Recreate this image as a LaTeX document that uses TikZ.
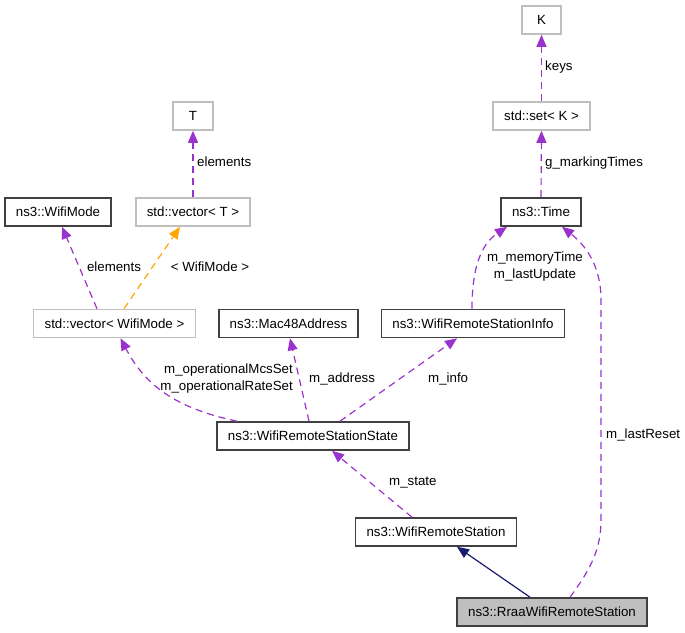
\documentclass[tikz,border=0pt]{standalone}
\usepackage{fontspec}
\setmainfont{Liberation Sans}
\usepackage{tikz}
\usetikzlibrary{arrows.meta}
\definecolor{dxpurple}{RGB}{154,50,205}
\definecolor{dxorange}{RGB}{255,165,0}
\definecolor{dxnavy}{RGB}{25,25,112}
\definecolor{dxgray}{RGB}{191,191,191}
\definecolor{dxedge}{RGB}{64,64,64}

\begin{document}
\begin{tikzpicture}[x=1pt,y=-1pt,
  font=\fontsize{13.3}{17}\selectfont,
  cls/.style={draw=dxedge,line width=1.6pt,fill=white,minimum height=28pt,inner xsep=11pt,inner ysep=0pt},
  tmpl/.style={cls,draw=dxgray},
  member/.style={dxpurple,line width=1.2pt,dash pattern=on 7pt off 5pt,-{Triangle[length=12pt,width=10pt]}},
  inst/.style={member,dxorange},
  inherit/.style={dxnavy,line width=1.2pt,-{Triangle[length=12pt,width=10pt]}},
  lbl/.style={inner sep=0pt}]
  \useasboundingbox (0,0) rectangle (685,632);
  % classes
  \node[tmpl,minimum width=39pt] (K) at (541.5,20) {K};
  \node[tmpl] (set) at (541.5,116) {std::set< K >};
  \node[cls] (time) at (541,212) {ns3::Time};
  \node[tmpl,minimum width=40pt] (T) at (193,116) {T};
  \node[cls] (mode) at (58,212) {ns3::WifiMode};
  \node[tmpl] (vecT) at (193,212) {std::vector< T >};
  \node[tmpl] (vecMode) at (114.5,323.5) {std::vector< WifiMode >};
  \node[cls] (mac) at (288.5,323.5) {ns3::Mac48Address};
  \node[cls] (info) at (473,323.5) {ns3::WifiRemoteStationInfo};
  \node[cls] (state) at (313,436) {ns3::WifiRemoteStationState};
  \node[cls] (wrs) at (436,532) {ns3::WifiRemoteStation};
  \node[cls,fill=dxgray] (rraa) at (552,612) {ns3::RraaWifiRemoteStation};
  % top chains
  \draw[member] (set.north) -- (K.south);
  \draw[member] (time.north) -- (set.south);
  \draw[member] (vecT.north) -- (T.south);
  \draw[member] ([xshift=-17.5pt]vecMode.north) -- ([xshift=4pt]mode.south);
  \draw[inst] ([xshift=9.5pt]vecMode.north) -- ([xshift=-13pt]vecT.south);
  % members of the state
  \draw[member] ([xshift=-76pt]state.north) .. controls (175,408) and (145,385) .. ([xshift=6pt]vecMode.south);
  \draw[member] ([xshift=-4pt]state.north) -- ([xshift=1.5pt]mac.south);
  \draw[member] ([xshift=27pt]state.north) -- ([xshift=-16pt]info.south);
  \draw[member] ([xshift=-24pt]wrs.north) -- ([xshift=19pt]state.south);
  \draw[member] ([xshift=-1pt]info.north) .. controls (472,270) and (480,245) .. ([xshift=-34pt]time.south);
  \draw[member] ([xshift=18pt]rraa.north) .. controls (590,570) and (601,550) .. (601,520)
    -- (601,300) .. controls (601,265) and (585,245) .. ([xshift=21pt]time.south);
  % inheritance
  \draw[inherit] ([xshift=-22pt]rraa.north) -- ([xshift=21pt]wrs.south);
  % labels
  \node[lbl,anchor=west] (lkeys) at (545,67) {keys};
  \node[lbl,anchor=west] (lmark) at (545,163) {g\_markingTimes};
  \node[lbl,anchor=west] (lelT) at (197,162) {elements};
  \node[lbl] (lelMode) at (114,267) {elements};
  \node[lbl] (ltmpl) at (210,267) {< WifiMode >};
  \node[lbl,align=center] (ltime) at (535,266.5) {m\_memoryTime\\m\_lastUpdate};
  \node[lbl,align=right,anchor=east] (lops) at (293,379) {m\_operationalMcsSet\\m\_operationalRateSet};
  \node[lbl,anchor=west] (laddr) at (309,379) {m\_address};
  \node[lbl,anchor=west] (linfo) at (428,379) {m\_info};
  \node[lbl,anchor=west] (lstate) at (389,483) {m\_state};
  \node[lbl,anchor=west] (lreset) at (606,435) {m\_lastReset};
\end{tikzpicture}
\end{document}
